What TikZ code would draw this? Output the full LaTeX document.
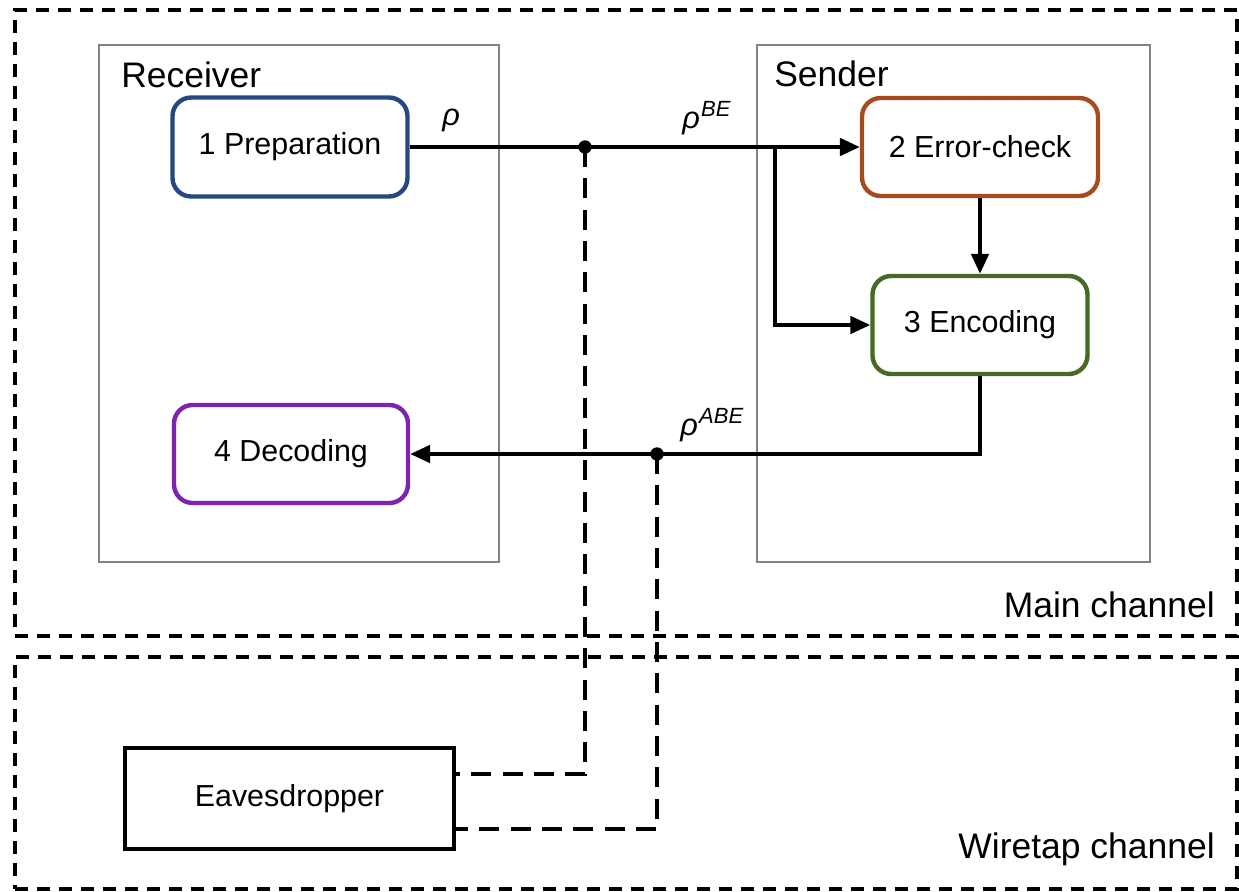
\documentclass[tikz,border=0pt]{standalone}
\usepackage{fontspec}
\setmainfont{Liberation Sans}
\usetikzlibrary{arrows.meta,calc}
\definecolor{prepblue}{RGB}{38,72,128}
\definecolor{errorange}{RGB}{165,75,30}
\definecolor{encgreen}{RGB}{70,105,35}
\definecolor{decpurple}{RGB}{125,35,175}
\definecolor{partygray}{RGB}{135,130,130}
\newcommand{\dgnodefont}{\fontsize{22.8}{26}\selectfont}
\newcommand{\dglabelfont}{\fontsize{26.6}{30}\selectfont}
\newcommand{\dgrho}{{\fontsize{23}{23}\selectfont\itshape ρ}}
\newcommand{\dgrhosup}[1]{\dgrho\kern1pt\raisebox{9pt}{\fontsize{16.5}{16.5}\selectfont\itshape #1}}
\begin{document}
\begin{tikzpicture}[x=0.75pt,y=-0.75pt,
  proc/.style={draw, line width=3.3pt, rounded corners=14pt, fill=white, align=center, font=\dgnodefont, inner sep=0pt},
  party/.style={draw=partygray, line width=1.6pt, inner sep=0pt},
  frame/.style={draw=black, line width=2.6pt, dash pattern=on 9.75pt off 6.75pt, inner sep=0pt},
  conn/.style={line width=2.9pt},
  arr/.style={conn, -{Triangle[length=15pt,width=13pt]}},
  tap/.style={line width=3pt, dash pattern=on 15pt off 8.5pt},
  lbl/.style={inner sep=0pt, font=\dglabelfont},
  dot/.style={circle, fill=black, inner sep=0pt, minimum size=10pt}]
\useasboundingbox (0,0) rectangle (1239,892);
% channel frames
\node[frame, minimum width=1222*0.75pt, minimum height=626*0.75pt] (mainch) at (626,323) {};
\node[frame, minimum width=1222*0.75pt, minimum height=232*0.75pt] (tapch) at (626,773) {};
% parties
\node[party, minimum width=400*0.75pt, minimum height=517*0.75pt] (receiver) at (299,303.5) {};
\node[party, minimum width=393*0.75pt, minimum height=517*0.75pt] (sender) at (953.5,303.5) {};
% labels
\node[lbl, anchor=base west] (recvlbl) at (121,88) {Receiver};
\node[lbl, anchor=base west] (sendlbl) at (774,87) {Sender};
\node[lbl, anchor=base east] (mainlbl) at (1215,617) {Main channel};
\node[lbl, anchor=base east] (taplbl) at (1215,858) {Wiretap channel};
% process nodes
\node[proc, draw=prepblue, minimum width=235*0.75pt, minimum height=99*0.75pt] (prep) at (290,147) {1 Preparation};
\node[proc, draw=errorange, minimum width=236*0.75pt, minimum height=98*0.75pt] (err) at (980,147) {2 Error-check};
\node[proc, draw=encgreen, minimum width=215*0.75pt, minimum height=98*0.75pt] (enc) at (980,325) {3 Encoding};
\node[proc, draw=decpurple, minimum width=234*0.75pt, minimum height=98*0.75pt] (dec) at (291,454) {4 Decoding};
\node[draw, line width=2.7pt, inner sep=0pt, minimum width=329*0.75pt, minimum height=101*0.75pt, font=\dgnodefont] (eav) at (289.5,798.5) {Eavesdropper};
% helper coordinates
\coordinate (j1) at (585,147);
\coordinate (br) at (775,147);
\coordinate (j2) at (657,454);
\path (eav.east) ++(0,-24.5) coordinate (e1);
\path (eav.east) ++(0,30.5) coordinate (e2);
% connectors
\draw[arr] (prep.east) -- (err.west);
\draw[arr] (br) |- (enc.west);
\draw[arr] (err.south) -- (enc.north);
\draw[arr] (enc.south) |- (dec.east);
\draw[tap] (j1) |- (e1);
\draw[tap] (j2) |- (e2);
\node[dot] (dot1) at (j1) {};
\node[dot] (dot2) at (j2) {};
% state labels
\node[inner sep=0pt, anchor=base west] (rho1) at (442,126) {\dgrho};
\node[inner sep=0pt, anchor=base west] (rho2) at (682,128) {\dgrhosup{BE}};
\node[inner sep=0pt, anchor=base west] (rho3) at (680,435) {\dgrhosup{ABE}};
\end{tikzpicture}
\end{document}
